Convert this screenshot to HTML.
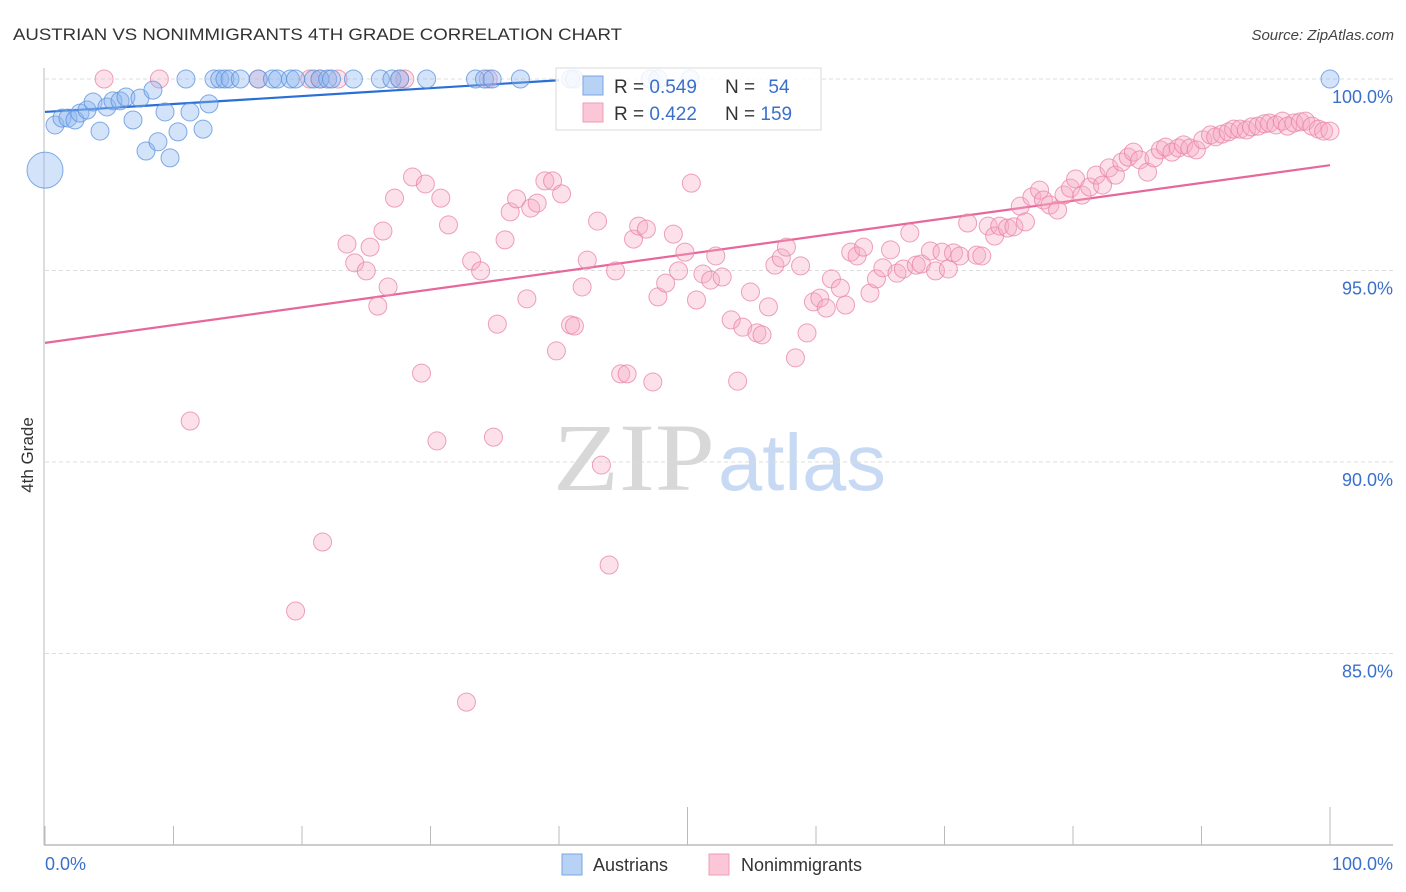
<!DOCTYPE html>
<html><head><meta charset="utf-8">
<style>
html,body{margin:0;padding:0;background:#fff;width:1406px;height:892px;overflow:hidden;font-family:"Liberation Sans",sans-serif}
</style></head>
<body>
<svg id="chart" width="1406" height="892" viewBox="0 0 1406 892" xmlns="http://www.w3.org/2000/svg">
<text x="13" y="40" font-size="17" fill="#333" textLength="609" lengthAdjust="spacingAndGlyphs">AUSTRIAN VS NONIMMIGRANTS 4TH GRADE CORRELATION CHART</text>
<text x="1394" y="40" font-size="15" fill="#444" text-anchor="end" font-style="italic">Source: ZipAtlas.com</text>
<g>
<text x="553" y="490" font-size="96" font-family="Liberation Serif,serif" fill="#d8d8d8" textLength="162" lengthAdjust="spacingAndGlyphs">ZIP</text>
<text x="718" y="490" font-size="80" fill="#c8daf3" textLength="168" lengthAdjust="spacingAndGlyphs">atlas</text>
</g>
<g id="grid"></g>
<g id="axes"></g>
<g id="lines"></g>
<g id="points"></g>
<text transform="translate(33,455) rotate(-90)" font-size="17" fill="#333" text-anchor="middle">4th Grade</text>
<g>
<rect x="556" y="68" width="265" height="62" fill="rgba(255,255,255,0.85)" stroke="#d8d8d8"/>
<rect x="583" y="76" width="20" height="19" fill="#b7d2f5" stroke="#7aa6e3"/>
<rect x="583" y="103" width="20" height="19" fill="#fbc6d6" stroke="#ee9fba"/>
<text x="614" y="93" font-size="19" fill="#333">R = <tspan fill="#3a70cc">0.549</tspan></text>
<text x="725" y="93" font-size="19" fill="#333">N = <tspan fill="#3a70cc" dx="8">54</tspan></text>
<text x="614" y="120" font-size="19" fill="#333">R = <tspan fill="#3a70cc">0.422</tspan></text>
<text x="725" y="120" font-size="19" fill="#333">N = <tspan fill="#3a70cc">159</tspan></text>
</g>
<g>
<rect x="562" y="854" width="20" height="21" fill="#b7d2f5" stroke="#7aa6e3"/>
<text x="593" y="871" font-size="18" fill="#333">Austrians</text>
<rect x="709" y="854" width="20" height="21" fill="#fbc6d6" stroke="#ee9fba"/>
<text x="741" y="871" font-size="18" fill="#333">Nonimmigrants</text>
</g>
</svg>
<script>
const yTicks=[100,95,90,85];
const yTickLabels=["100.0%","95.0%","90.0%","85.0%"];
const xTicks=[0,10,20,30,40,50,60,70,80,90,100];
const austX=[0,0.78,1.32,1.79,2.33,2.72,3.27,3.74,4.28,4.82,5.29,5.84,6.3,6.85,7.39,7.86,8.4,8.79,9.34,9.73,10.35,10.97,11.28,12.3,12.76,13.15,13.6,14.0,14.4,15.2,16.6,17.7,18.1,19.1,19.5,20.9,21.4,22.0,22.3,24.0,26.1,27.0,27.6,29.7,33.5,34.2,34.8,37.0,40.9,41.2,47.1,47.7,50.2,100];
const austY=[97.62,98.8,98.98,98.98,98.93,99.11,99.19,99.4,98.64,99.27,99.43,99.43,99.53,98.93,99.5,98.12,99.71,98.36,99.14,97.94,98.62,100,99.14,98.69,99.35,100,100,100,100,100,100,100,100,100,100,100,100,100,100,100,100,100,100,100,100,100,100,100,100,100,100,100,100,100];
const nonX=[4.6,8.9,16.6,20.6,21.4,22.8,27.6,28.0,34.5,11.3,19.5,21.6,23.5,24.1,25.0,25.3,25.9,26.3,26.7,27.2,28.6,29.3,29.6,30.5,30.8,31.4,32.8,33.2,33.9,34.9,35.2,35.8,36.2,36.7,37.5,37.8,38.3,38.9,39.5,39.8,40.2,40.9,41.2,41.8,42.2,43.0,43.3,43.9,44.4,44.8,45.3,45.8,46.2,46.8,47.3,47.7,48.3,48.9,49.3,49.8,50.3,50.7,51.2,51.8,52.2,52.7,53.4,53.9,54.3,54.9,55.4,55.8,56.3,56.8,57.3,57.7,58.4,58.8,59.3,59.8,60.3,60.8,61.2,61.9,62.3,62.7,63.2,63.7,64.2,64.7,65.2,65.8,66.3,66.8,67.3,67.8,68.2,68.9,69.3,69.8,70.3,70.7,71.2,71.8,72.5,72.9,73.4,73.9,74.3,74.9,75.4,75.9,76.3,76.8,77.4,77.7,78.2,78.8,79.3,79.8,80.2,80.7,81.3,81.8,82.3,82.8,83.3,83.8,84.3,84.7,85.2,85.8,86.3,86.8,87.2,87.7,88.2,88.6,89.1,89.6,90.1,90.7,91.1,91.6,92.1,92.5,93.0,93.5,93.9,94.4,94.9,95.3,95.8,96.3,96.7,97.2,97.7,98.1,98.6,99.1,99.5,100];
const nonY=[100,100,100,100,100,100,100,100,100,91.07,86.11,87.91,95.69,95.2,94.99,95.61,94.07,96.03,94.57,96.89,97.44,92.32,97.26,90.55,96.89,96.19,83.73,95.25,94.99,90.65,93.6,95.8,96.53,96.87,94.26,96.63,96.76,97.34,97.34,92.9,97.0,93.58,93.55,94.57,95.27,96.29,89.92,87.31,94.99,92.3,92.3,95.82,96.16,96.08,92.09,94.31,94.67,95.95,94.99,95.48,97.28,94.23,94.91,94.75,95.38,94.83,93.71,92.11,93.52,94.44,93.37,93.32,94.05,95.14,95.33,95.61,92.72,95.12,93.37,94.18,94.28,94.02,94.78,94.54,94.1,95.48,95.38,95.61,94.41,94.78,95.07,95.54,94.93,95.04,95.98,95.14,95.17,95.51,94.99,95.48,95.04,95.46,95.38,96.24,95.4,95.38,96.16,95.9,96.16,96.11,96.14,96.68,96.27,96.92,97.1,96.84,96.71,96.58,96.97,97.15,97.39,96.97,97.18,97.49,97.23,97.68,97.49,97.83,97.96,98.09,97.89,97.57,97.94,98.15,98.22,98.09,98.2,98.28,98.2,98.15,98.41,98.54,98.49,98.56,98.62,98.69,98.69,98.67,98.75,98.77,98.83,98.85,98.8,98.9,98.77,98.85,98.88,98.9,98.77,98.69,98.64,98.64];
const austTrend=[99.14,0.0207];
const nonTrend=[93.11,0.0464];

const NS="http://www.w3.org/2000/svg";
const xs=v=>45+v*12.85;
const ys=v=>845-(v-80)*38.3;
function mk(tag,attrs,parent){const e=document.createElementNS(NS,tag);for(const k in attrs)e.setAttribute(k,attrs[k]);document.getElementById(parent).appendChild(e);return e;}

yTicks.forEach((t,i)=>{
  const l=mk('line',{x1:45,x2:1393,y1:ys(t),y2:ys(t),stroke:'#ddd','stroke-dasharray':'4,3'},'grid');
  
  
  const tx=mk('text',{x:1393,y:ys(t)+24,'font-size':18,fill:'#3a70cc','text-anchor':'end'},'grid');
  tx.textContent=yTickLabels[i];
  
  
});
const ya=mk('line',{x1:44,x2:44,y1:68,y2:845,stroke:'#bbb'},'axes');


const xa=mk('line',{x1:44,x2:1393,y1:845,y2:845,stroke:'#bbb','stroke-width':1.5},'axes');


xTicks.forEach(t=>{
  const tall=(t===50||t===100);
  const l=mk('line',{x1:xs(t),x2:xs(t),y1:tall?807:826,y2:845,stroke:'#bbb'},'axes');
  
  
});
const xl0=mk('text',{x:45,y:870,'font-size':18,fill:'#3a70cc'},'axes');
xl0.textContent='0.0%';


const xl1=mk('text',{x:1393,y:870,'font-size':18,fill:'#3a70cc','text-anchor':'end'},'axes');
xl1.textContent='100.0%';



nonX.forEach((x,i)=>{
  const c=mk('circle',{cx:xs(x),cy:ys(nonY[i]),r:9,fill:'rgba(246,168,195,0.35)',stroke:'rgba(232,130,165,0.75)','stroke-width':1},'points');
  
  
});
austX.forEach((x,i)=>{
  const c=mk('circle',{cx:xs(x),cy:ys(austY[i]),r:i===0?18:9,fill:'rgba(140,182,240,0.38)',stroke:'rgba(90,145,220,0.75)','stroke-width':1},'points');
  
  
});
const la=mk('line',{x1:xs(0),y1:ys(austTrend[0]),x2:xs(40),y2:ys(austTrend[0]+austTrend[1]*40),stroke:'#2a6fd6','stroke-width':2.2},'lines');


const ln=mk('line',{x1:xs(0),y1:ys(nonTrend[0]),x2:xs(100),y2:ys(nonTrend[0]+nonTrend[1]*100),stroke:'#e8679a','stroke-width':2.2},'lines');


</script>
</body></html>
